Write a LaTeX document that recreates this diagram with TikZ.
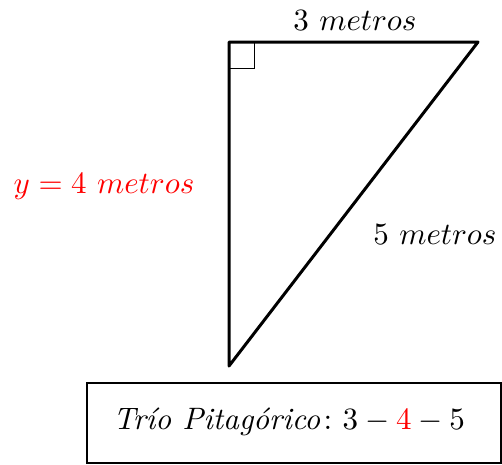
\documentclass[tikz,border=0pt]{standalone}
\usepackage{amsmath, amssymb}
\usepackage{xcolor}
\usetikzlibrary{positioning, calc}

\begin{document}
\begin{tikzpicture}[x=1pt, y=-1pt,
  rotulo/.style={scale=3.1, inner sep=0pt}]
% --- CORES ---
\definecolor{destaque}{HTML}{FF0000}

% LAYER 0: Margens
\useasboundingbox (0,0) rectangle (502,464);

% LAYER 1: Vertices do triangulo
\coordinate (A) at (229,42);
\coordinate (B) at (478,42);
\coordinate (C) at (229,366);

% LAYER 2: Triangulo e angulo reto
\draw[line width=3pt, line join=round] (A) -- (B) -- (C) -- cycle;
\draw[line width=0.8pt] (229,68) -- (254,68) -- (254,42);

% LAYER 3: Medidas dos lados
\node[rotulo] (cateto3) at (355,21) {$3\ metros$};
\node[rotulo, text=destaque] (cateto4) at (104,187) {$y=4\ metros$};
\node[rotulo] (hipot) at (435,235) {$5\ metros$};

% LAYER 4: Caixa com o trio
\draw[line width=1.5pt] (87,383) rectangle (501,463);
\node[rotulo] (trio) at (289,422) {$\textit{Trío Pitagórico}\colon 3-{\color{destaque}4}-5$};
\end{tikzpicture}
\end{document}
